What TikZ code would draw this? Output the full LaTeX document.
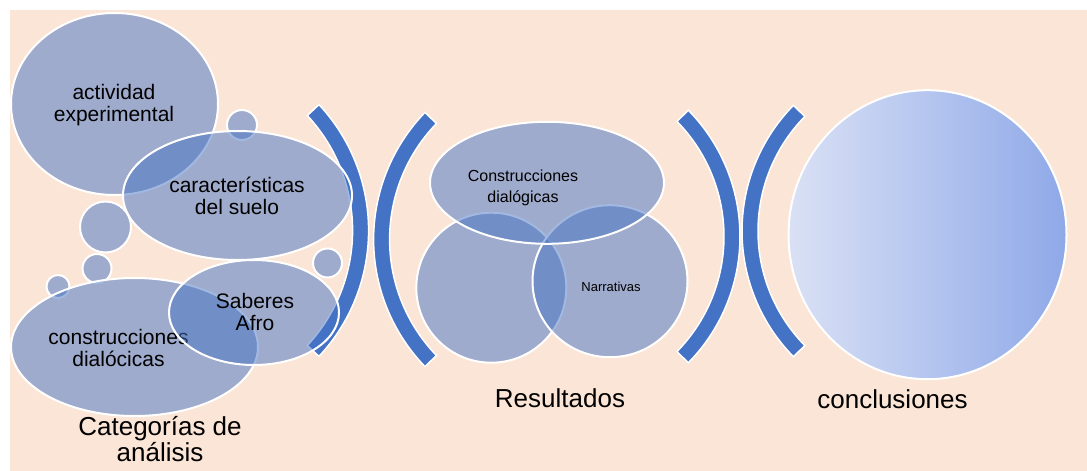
\documentclass[tikz,border=0pt]{standalone}
\usepackage{fontspec}
\setmainfont{Liberation Sans}
\usetikzlibrary{shapes.geometric}
\definecolor{peach}{HTML}{FBE5D6}
\definecolor{accent}{HTML}{4472C4}
\definecolor{gradL}{HTML}{DAE1F5}
\definecolor{gradR}{HTML}{8FA9E8}
\newcommand\bandarc[5]{%
  \filldraw[arcband] plot[domain=#4:#5, samples=60] ({#1+(#3+8)*cos(\x)}, {#2+(#3+8)*sin(\x)})
    -- plot[domain=#5:#4, samples=60] ({#1+(#3-8)*cos(\x)}, {#2+(#3-8)*sin(\x)}) -- cycle;}
\begin{document}
\begin{tikzpicture}[x=1pt, y=-1pt,
  bub/.style={ellipse, fill=accent, fill opacity=0.5, draw=white, draw opacity=1,
              line width=2pt, inner sep=0pt, outer sep=0pt, text opacity=1},
  arcband/.style={fill=accent, draw=white, line width=1.5pt, line join=miter},
  txt/.style={align=center, text=black, inner sep=0pt, font=\fontsize{21}{22}\selectfont},
  small/.style={align=center, text=black, inner sep=0pt, font=\fontsize{16}{21.7}\selectfont},
  tiny/.style={align=center, text=black, inner sep=0pt, font=\fontsize{13}{15}\selectfont},
  big/.style={align=center, text=black, inner sep=0pt, font=\fontsize{26}{26.7}\selectfont}]
\useasboundingbox (0,0) rectangle (1087,471);
\fill[peach] (10,10) rectangle (1087,471);

% brackets
\bandarc{184}{230.5}{176.6}{-43}{43}
\bandarc{556.6}{239.5}{175}{136}{224}
\bandarc{559.8}{236.5}{172.2}{-44.5}{44.5}
\bandarc{921.4}{231}{171.4}{135.5}{224.5}

% left group
\node[bub, minimum width=207pt, minimum height=182pt] (act) at (114.5,104) {};
\node[txt] (actT) at (114,105) {actividad\\experimental};
\node[bub, minimum width=30pt, minimum height=30pt] (c1) at (242,125) {};
\node[bub, minimum width=229pt, minimum height=129pt] (car) at (237.5,195.5) {};
\node[txt] (carT) at (237,196) {características\\del suelo};
\node[bub, minimum width=51pt, minimum height=51pt] (c2) at (105.5,227) {};
\node[bub, minimum width=29pt, minimum height=29pt] (c3) at (97,268.5) {};
\node[bub, minimum width=23pt, minimum height=23pt] (c4) at (58,286.5) {};
\node[bub, minimum width=29pt, minimum height=29pt] (c5) at (327.5,263) {};
\node[bub, minimum width=247pt, minimum height=138pt] (con) at (134.5,347) {};
\node[txt] (conT) at (118.5,348) {construcciones\\dialócicas};
\node[bub, minimum width=170pt, minimum height=105pt] (sab) at (254,312.5) {};
\node[txt] (sabT) at (255,312) {Saberes\\Afro};
\node[big] (cat) at (160,439) {Categorías de\\análisis};

% middle group
\node[bub, minimum width=150pt, minimum height=150pt] (lc) at (491.3,287.7) {};
\node[bub, minimum width=155pt, minimum height=152pt] (rc) at (610,281.2) {};
\node[tiny] (narr) at (611,287) {Narrativas};
\node[bub, minimum width=234pt, minimum height=122pt] (top) at (547,182.8) {};
\node[small] (topT) at (523,188) {Construcciones\\dialógicas};
\node[big] (res) at (560,398.5) {Resultados};

% right group
\node[ellipse, left color=gradL, right color=gradR, draw=white, line width=2pt,
      minimum width=278pt, minimum height=289pt, inner sep=0pt] (concl) at (927.5,234.7) {};
\node[big] (conc) at (892.5,399) {conclusiones};
\end{tikzpicture}
\end{document}
